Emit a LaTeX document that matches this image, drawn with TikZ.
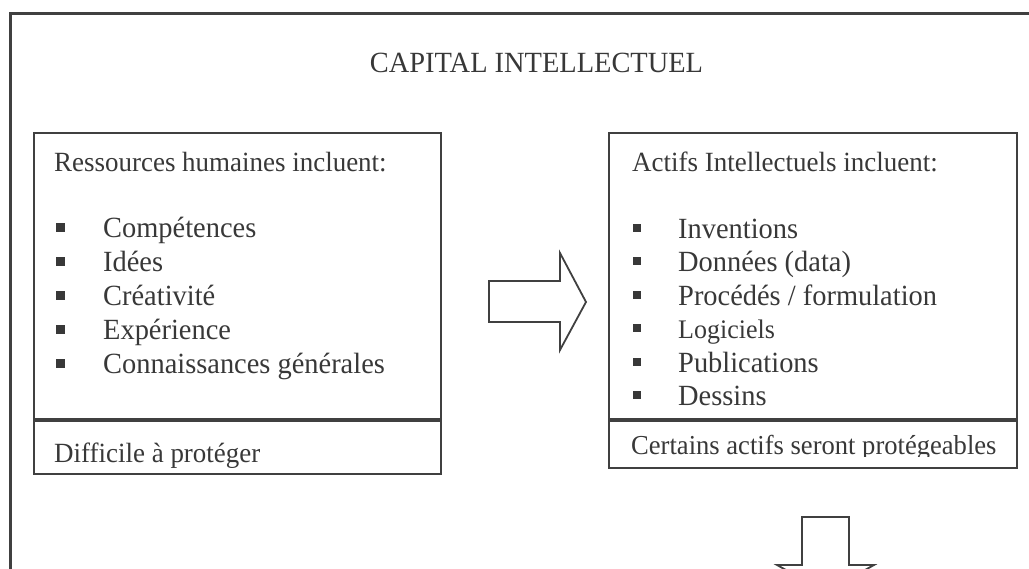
\documentclass[tikz,border=0pt]{standalone}
\usepackage{fontspec}
\setmainfont{Liberation Serif}[FakeStretch=0.97]
\begin{document}
\begin{tikzpicture}[x=1pt,y=-1pt,
  frame/.style={draw=black!75, line width=3pt},
  box/.style={draw=black!75, line width=1.8pt, anchor=north west, inner sep=0pt, outer sep=0pt},
  blockarrow/.style={draw=black!75, line width=1.8pt, line join=miter, fill=white},
  txt/.style={anchor=base west, inner sep=0pt, text=black!78, font=\fontsize{27.8}{32}\selectfont},
  itemtxt/.style={txt, font=\fontsize{29.3}{34}\selectfont},
  bullet/.style={fill=black!78, draw=none, minimum size=8.5pt, inner sep=0pt}
]
\useasboundingbox (0,0) rectangle (1029,569);
\clip (0,0) rectangle (1029,569);

% outer frame, running past the page on the right and at the bottom
\draw[frame] (10,13.5) rectangle (1060,620);

% title
\node[txt, anchor=base, font=\fontsize{29.3}{34}\selectfont] (title) at (536.5,73) {CAPITAL INTELLECTUEL};

% left column: human resources
\node[box, minimum width=407pt, minimum height=286pt] (rh) at (34,133) {};
\node[box, minimum width=407pt, minimum height=53pt] (rhnote) at (34,421) {};
\node[txt] (rhhead) at (54,172) {Ressources humaines incluent:};
\foreach \y/\t [count=\i] in {238/Compétences, 272/Idées, 306/Créativité, 340/Expérience, 374/Connaissances générales}{
  \node[bullet] (rhb\i) at (60.5,\y-10.5) {};
  \node[itemtxt] (rhi\i) at (103,\y) {\t};
}
\node[txt] (rhnotetxt) at (54,462.5) {Difficile à protéger};

% right column: intellectual assets
\node[box, minimum width=408pt, minimum height=286pt] (ai) at (609,133) {};
\node[box, minimum width=408pt, minimum height=47pt] (ainote) at (609,421) {};
\node[txt] (aihead) at (632,172) {Actifs Intellectuels incluent:};
\foreach \y/\t/\s [count=\i] in {238.5/Inventions/29.3, 272/{Données (data)}/29.3, 305.5/{Procédés / formulation}/29.3, 339/Logiciels/26.8, 372.5/Publications/29.3, 406/Dessins/29.3}{
  \node[bullet, minimum size=8pt] (aib\i) at (637,\y-10.5) {};
  \node[txt, font=\fontsize{\s}{34}\selectfont] (aii\i) at (678,\y) {\t};
}
\begin{scope}
  \clip (610,422) rectangle (1016,456.5);
  \node[txt, font=\fontsize{27.4}{32}\selectfont] (ainotetxt) at (631,455) {Certains actifs seront protégeables};
\end{scope}

% block arrows
\draw[blockarrow] (489,281) -- (560,281) -- (560,253) -- (586,302) -- (560,350) -- (560,322) -- (489,322) -- cycle;
\draw[blockarrow] (802,517) -- (849,517) -- (849,565) -- (874,565) -- (825.5,592) -- (777,565) -- (802,565) -- cycle;
\end{tikzpicture}
\end{document}
